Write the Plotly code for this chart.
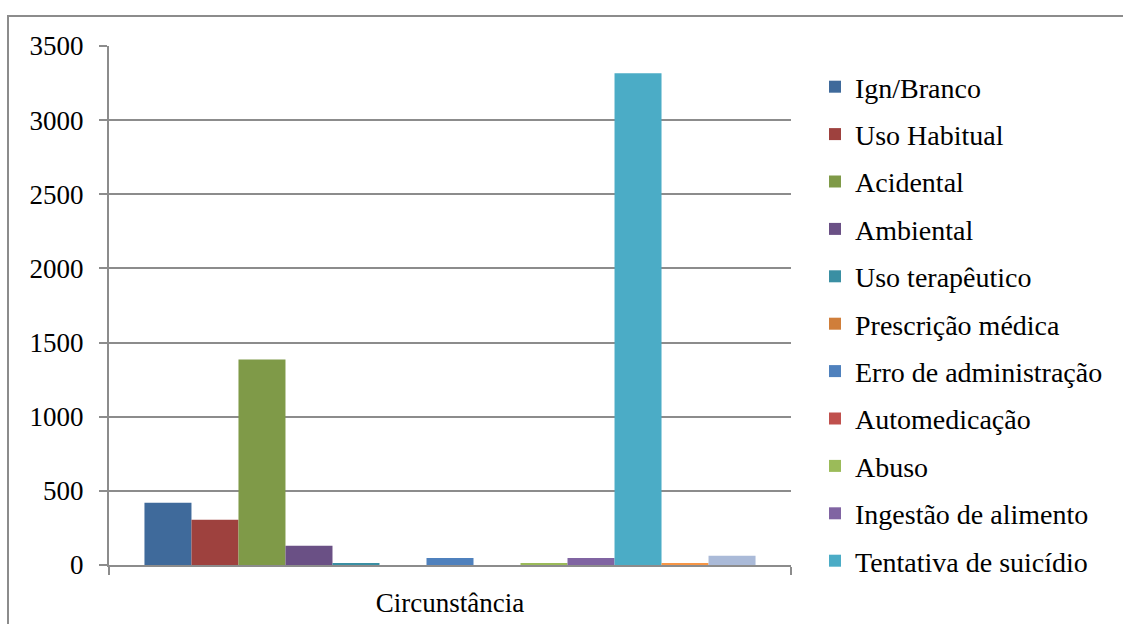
import plotly.graph_objects as go

# Circumstance of exposure, one category with one bar per circumstance
category = ["Circunstância"]
series_names = [
    "Ign/Branco",
    "Uso Habitual",
    "Acidental",
    "Ambiental",
    "Uso terapêutico",
    "Prescrição médica",
    "Erro de administração",
    "Automedicação",
    "Abuso",
    "Ingestão de alimento",
    "Tentativa de suicídio",
    "Tentativa de aborto",
    "Violência/homicídio",
]
series_values = [420, 305, 1385, 130, 7, 0, 48, 0, 14, 48, 3316, 14, 62]
series_colors = [
    "#3F6A9B", "#9E413E", "#7F9A48", "#6A5085", "#3A8FA3", "#D07E3A",
    "#4F81BD", "#C0504D", "#9BBB59", "#8064A2", "#4BACC6", "#F79646",
    "#AABAD8",
]
# only the first eleven circumstances fit in the legend box
legend_visible = [True] * 11 + [False, False]
y_ticks = [0, 500, 1000, 1500, 2000, 2500, 3000, 3500]

FONT = "Liberation Serif"
GRID = "#8C8C8C"

fig = go.Figure()
for i, (name, val, col, show) in enumerate(
    zip(series_names, series_values, series_colors, legend_visible)
):
    fig.add_trace(
        go.Bar(
            x=[0],
            y=[val],
            name=name,
            marker=dict(color=col, line=dict(width=0)),
            showlegend=show,
            legendgroup=f"g{i}",
        )
    )

fig.update_layout(
    width=1123,
    height=624,
    margin=dict(l=109, r=332, t=46, b=59, autoexpand=False),
    paper_bgcolor="white",
    plot_bgcolor="white",
    barmode="group",
    bargap=0.104,
    bargroupgap=0,
    font=dict(family=FONT, size=27, color="#000000"),
    xaxis=dict(
        range=[-0.5, 0.5],
        tickvals=[0],
        ticktext=category,
        ticks="",
        showgrid=False,
        zeroline=False,
        showline=True,
        linecolor=GRID,
        linewidth=2,
        ticklabelstandoff=13,
        automargin=False,
        minor=dict(
            tickvals=[-0.5, 0.5],
            ticks="outside",
            ticklen=8,
            tickcolor=GRID,
            tickwidth=2,
            showgrid=False,
        ),
        fixedrange=True,
    ),
    yaxis=dict(
        range=[0, 3500],
        tickvals=y_ticks,
        ticks="outside",
        ticklen=8,
        tickcolor=GRID,
        tickwidth=2,
        showgrid=True,
        gridcolor=GRID,
        gridwidth=2,
        zeroline=False,
        showline=True,
        linecolor=GRID,
        linewidth=2,
        ticklabelstandoff=10,
        automargin=False,
        fixedrange=True,
    ),
    legend=dict(
        x=(815 - 109) / 682,
        xanchor="left",
        y=(565 - 62) / 519,
        yanchor="top",
        font=dict(family=FONT, size=28),
        tracegroupgap=8,
        itemwidth=30,
        bgcolor="rgba(0,0,0,0)",
        maxheight=620,
    ),
    showlegend=True,
)

# outer chart frame
fig.add_shape(
    type="rect",
    xref="paper",
    yref="paper",
    x0=(8 - 109) / 682,
    x1=(1130 - 109) / 682,
    y0=(565 - 640) / 519,
    y1=(565 - 16) / 519,
    line=dict(color=GRID, width=2),
    fillcolor="rgba(0,0,0,0)",
    layer="below",
)

fig.write_html("out.html")
